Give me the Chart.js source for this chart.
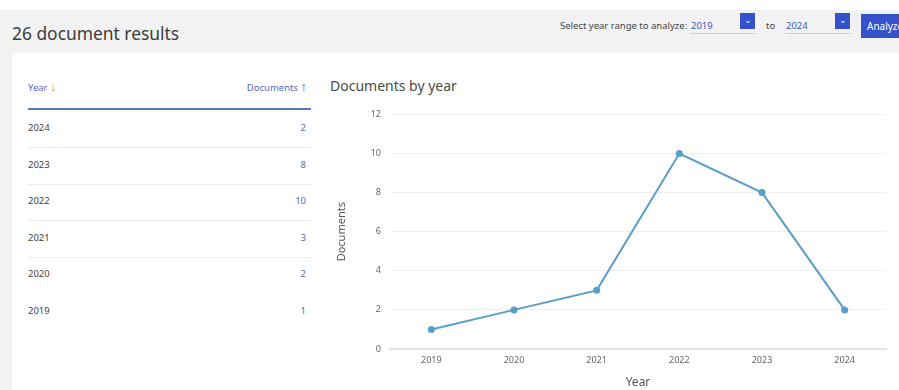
<!DOCTYPE html>
<html>
<head>
<meta charset="utf-8">
<script src="https://cdn.jsdelivr.net/npm/chart.js@4.4.1/dist/chart.umd.min.js"></script>
<style>
  body { margin: 0; width: 899px; height: 390px; overflow: hidden; background: #fff; font-family: 'Noto Sans', sans-serif; position: relative; }
  .header { position: absolute; left: 0; top: 10px; width: 899px; height: 43px; background: #f2f2f2; }
  .side { position: absolute; left: 0; top: 53px; width: 12px; height: 337px; background: #f2f2f2; }
  .title { position: absolute; left: 12px; top: 21px; font-size: 17.4px; color: #3c3c3c; }
  .range { position: absolute; top: 19px; font-size: 9.5px; color: #444; }
  .sel { position: absolute; top: 19px; font-size: 9.5px; color: #3b5bc4; }
  .uline { position: absolute; top: 33px; height: 1px; background: #cfcfcf; }
  .drop { position: absolute; top: 13px; width: 15px; height: 16px; background: #3551cc; color: #fff; font-size: 9px; text-align: center; line-height: 14px; }
  .btn { position: absolute; left: 861px; top: 14px; width: 60px; height: 24px; background: #3551cc; color: #fff; font-size: 10px; line-height: 24px; padding-left: 6px; }
  .th { position: absolute; top: 81px; font-size: 9.5px; color: #4f6bc6; }
  .th .ar { font-size: 13px; line-height: 10px; }
  .hline { position: absolute; left: 28px; top: 108px; width: 283px; height: 2px; background: #5a73cc; }
  .row { position: absolute; left: 28px; width: 283px; height: 36px; font-size: 9.5px; color: #444; }
  .row .v { position: absolute; right: 5px; top: 0; color: #4f6bc6; }
  .row .y { position: absolute; left: 0; top: 0; }
  .rline { position: absolute; left: 28px; width: 283px; height: 1px; background: #ececec; }
  .ctitle { position: absolute; left: 330px; top: 76px; font-size: 14px; color: #4a4a4a; }
  .wrap { position: absolute; left: 325px; top: 100px; width: 574px; height: 290px; }
</style>
</head>
<body>
<div class="header"></div>
<div class="side"></div>
<div class="title">26 document results</div>
<div class="range" style="left:560px">Select year range to analyze:</div>
<div class="sel" style="left:691px">2019</div>
<div class="uline" style="left:690px;width:66px"></div>
<div class="drop" style="left:740px">&#8964;</div>
<div class="range" style="left:766px">to</div>
<div class="sel" style="left:786px">2024</div>
<div class="uline" style="left:785px;width:66px"></div>
<div class="drop" style="left:835px">&#8964;</div>
<div class="btn">Analyze</div>

<div class="th" style="left:28px">Year <span class="ar" style="color:#e8953a">&#8595;</span></div>
<div class="th" style="right:592px">Documents <span class="ar" style="color:#2f4fa8">&#8593;</span></div>
<div class="hline"></div>
<div id="rows"></div>

<div class="ctitle">Documents by year</div>
<div class="wrap"><canvas id="docChart"></canvas></div>

<script>
// Data
const years = ['2019', '2020', '2021', '2022', '2023', '2024'];
const documents = [1, 2, 3, 10, 8, 2];
const yTicks = [0, 2, 4, 6, 8, 10, 12];

// Table rows (newest first)
const rowsEl = document.getElementById('rows');
years.slice().reverse().forEach((yr, i) => {
    const idx = years.length - 1 - i;
    const top = 121 + i * 36.6;
    const row = document.createElement('div');
    row.className = 'row';
    row.style.top = top + 'px';
    row.innerHTML = '<span class="y">' + yr + '</span><span class="v">' + documents[idx] + '</span>';
    rowsEl.appendChild(row);
    if (i < years.length - 2) {
        const line = document.createElement('div');
        line.className = 'rline';
        line.style.top = (top + 26) + 'px';
        rowsEl.appendChild(line);
    }
});

// Line chart
const ctx = document.getElementById('docChart').getContext('2d');
new Chart(ctx, {
    type: 'line',
    data: {
        labels: years,
        datasets: [{
            label: 'Documents',
            data: documents,
            borderColor: '#5a9ec8',
            backgroundColor: '#5a9ec8',
            borderWidth: 2,
            tension: 0,
            pointRadius: 3.5,
            pointBackgroundColor: '#5a9ec8',
            pointBorderWidth: 0
        }]
    },
    options: {
        responsive: true,
        maintainAspectRatio: false,
        animation: false,
        layout: { padding: { top: 13, right: 13, left: 0, bottom: 0 } },
        plugins: {
            legend: { display: false },
            tooltip: { enabled: false }
        },
        scales: {
            x: {
                offset: true,
                grid: { display: false, drawTicks: false },
                border: { color: '#e2e2e2', width: 2 },
                ticks: { color: '#666', font: { size: 9, family: 'Noto Sans' }, padding: 6 },
                title: { display: true, text: 'Year', color: '#555', font: { size: 12, family: 'Noto Sans' }, padding: { top: 2, bottom: 0 } },
                afterFit: function(scale) { scale.height = 41; }
            },
            y: {
                min: 0,
                max: 12,
                afterBuildTicks: function(scale) { scale.ticks = yTicks.map(v => ({ value: v })); },
                grid: { color: '#efefef', drawTicks: false },
                border: { display: false },
                ticks: { color: '#666', font: { size: 9, family: 'Noto Sans' }, padding: 9 },
                title: { display: true, text: 'Documents', color: '#555', font: { size: 11, family: 'Noto Sans' }, padding: { top: 10, bottom: 0 } },
                afterFit: function(scale) { scale.width = 65; }
            }
        }
    }
});
</script>
</body>
</html>
